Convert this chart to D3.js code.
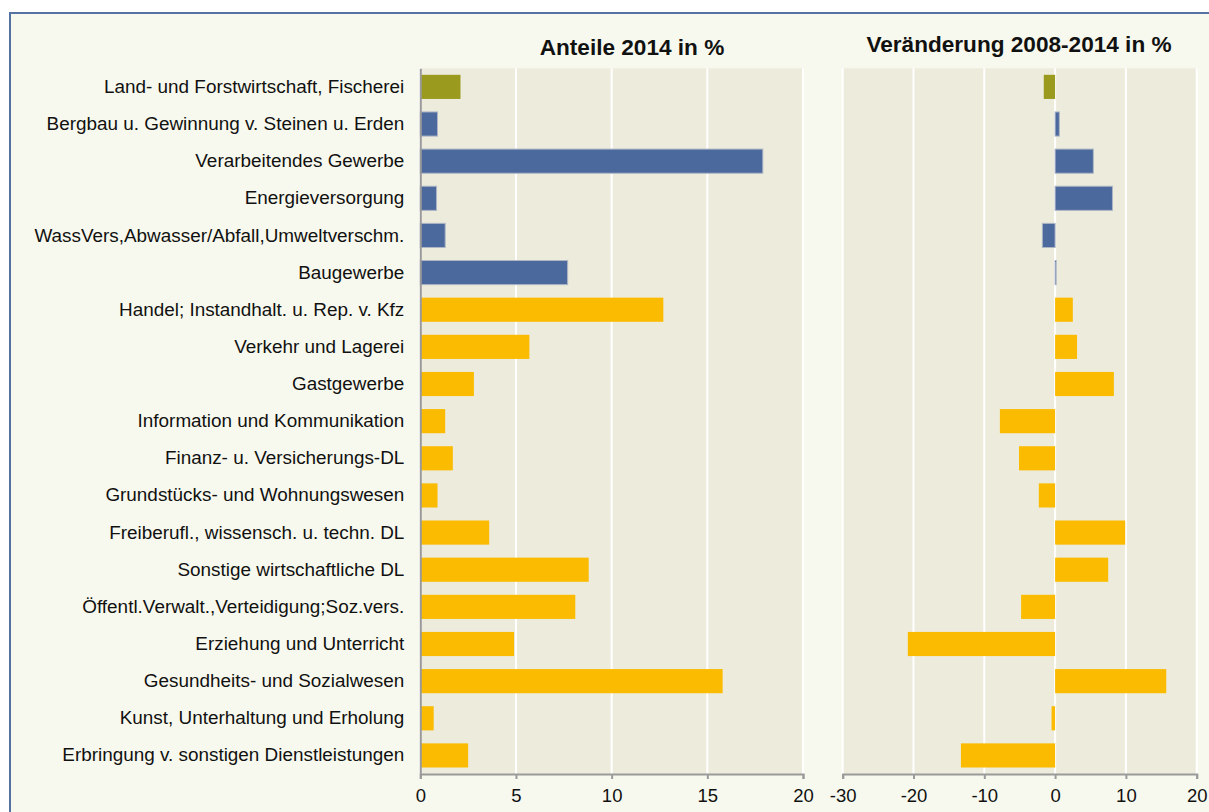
<!DOCTYPE html>
<html>
<head>
<meta charset="utf-8">
<script src="https://cdn.jsdelivr.net/npm/d3@7"></script>
<style>
  html, body { margin: 0; padding: 0; background: #ffffff; }
  svg { display: block; font-family: "Liberation Sans", Arial, sans-serif; }
</style>
</head>
<body>
<svg id="chart" width="1209" height="812"></svg>
<script>
const categories = [
  "Land- und Forstwirtschaft, Fischerei",
  "Bergbau u. Gewinnung v. Steinen u. Erden",
  "Verarbeitendes Gewerbe",
  "Energieversorgung",
  "WassVers,Abwasser/Abfall,Umweltverschm.",
  "Baugewerbe",
  "Handel; Instandhalt. u. Rep. v. Kfz",
  "Verkehr und Lagerei",
  "Gastgewerbe",
  "Information und Kommunikation",
  "Finanz- u. Versicherungs-DL",
  "Grundstücks- und Wohnungswesen",
  "Freiberufl., wissensch. u. techn. DL",
  "Sonstige wirtschaftliche DL",
  "Öffentl.Verwalt.,Verteidigung;Soz.vers.",
  "Erziehung und Unterricht",
  "Gesundheits- und Sozialwesen",
  "Kunst, Unterhaltung und Erholung",
  "Erbringung v. sonstigen Dienstleistungen"
];
const sectors = [
  "Land- und Forstwirtschaft",
  "Produzierendes Gewerbe", "Produzierendes Gewerbe", "Produzierendes Gewerbe",
  "Produzierendes Gewerbe", "Produzierendes Gewerbe",
  "Dienstleistungen", "Dienstleistungen", "Dienstleistungen", "Dienstleistungen",
  "Dienstleistungen", "Dienstleistungen", "Dienstleistungen", "Dienstleistungen",
  "Dienstleistungen", "Dienstleistungen", "Dienstleistungen", "Dienstleistungen",
  "Dienstleistungen"
];
const shares2014 = [2.1, 0.9, 17.9, 0.85, 1.3, 7.7, 12.7, 5.7, 2.8, 1.3, 1.7, 0.9, 3.6, 8.8, 8.1, 4.9, 15.8, 0.7, 2.5];
const change2008to2014 = [-1.6, 0.6, 5.4, 8.1, -1.8, 0.15, 2.5, 3.1, 8.3, -7.8, -5.1, -2.3, 9.9, 7.5, -4.8, -20.8, 15.7, -0.5, -13.3];
const ticksLeft = [0, 5, 10, 15, 20];
const ticksRight = [-30, -20, -10, 0, 10, 20];
const titleLeft = "Anteile 2014 in %";
const titleRight = "Veränderung 2008-2014 in %";

const svg = d3.select("#chart");

// outer frame
svg.append("rect")
  .attr("x", 10).attr("y", 13).attr("width", 1215).attr("height", 820)
  .attr("fill", "#F8F9EE").attr("stroke", "#5672A3").attr("stroke-width", 2);

const color = d3.scaleOrdinal()
  .domain(["Land- und Forstwirtschaft", "Produzierendes Gewerbe", "Dienstleistungen"])
  .range(["#999A1E", "#4B699C", "#FABB00"]);
const strokeC = d3.scaleOrdinal()
  .domain(["Land- und Forstwirtschaft", "Produzierendes Gewerbe", "Dienstleistungen"])
  .range(["none", "#AEB6C6", "none"]);

const plotTop = 68.3, plotBottom = 774;
const y = d3.scaleBand().domain(categories).range([plotTop, plotBottom]).paddingInner(0.35).paddingOuter(0.175);
const xL = d3.scaleLinear().domain([0, 20]).range([420.3, 803]);
const xR = d3.scaleLinear().domain([-30, 20]).range([842.7, 1196.7]);

function panel(x, ticks, values, title, titleX, titleY, leftAxis) {
  const g = svg.append("g");
  const [r0, r1] = x.range();
  g.append("rect").attr("x", r0).attr("y", plotTop).attr("width", r1 - r0).attr("height", plotBottom - plotTop)
    .attr("fill", "#EDEBDC");
  g.selectAll("line.grid").data(ticks).join("line")
    .attr("class", "grid")
    .attr("x1", d => x(d)).attr("x2", d => x(d))
    .attr("y1", plotTop).attr("y2", plotBottom)
    .attr("stroke", "#ffffff").attr("stroke-width", 2);
  g.selectAll("rect.bar").data(values).join("rect")
    .attr("class", "bar")
    .attr("x", d => Math.min(x(0), x(d)))
    .attr("width", d => Math.max(1, Math.abs(x(d) - x(0))))
    .attr("y", (d, i) => y(categories[i]))
    .attr("height", y.bandwidth())
    .attr("fill", (d, i) => color(sectors[i]))
    .attr("stroke", (d, i) => strokeC(sectors[i]))
    .attr("stroke-width", 1);
  const ax = g.append("g").attr("transform", `translate(0,${plotBottom})`)
    .call(d3.axisBottom(x).tickValues(ticks).tickFormat(d3.format("d")).tickSize(5).tickPadding(10));
  ax.select(".domain").attr("stroke", "#9A9A9A").attr("stroke-width", 2);
  ax.selectAll(".tick line").attr("stroke", "#9A9A9A").attr("stroke-width", 2);
  ax.selectAll(".tick text").attr("fill", "#111").attr("font-size", 18.5)
    .attr("font-family", "'Liberation Sans', Arial, sans-serif");
  ax.selectAll(".tick text").text(d => d < 0 ? "-" + Math.abs(d) : d);
  if (leftAxis) {
    const ay = g.append("g").attr("transform", `translate(${x(0)},0)`)
      .call(d3.axisLeft(y).tickSize(0).tickPadding(16));
    ay.select(".domain").attr("stroke", "#9A9A9A").attr("stroke-width", 2);
    ay.selectAll(".tick text").attr("fill", "#111").attr("font-size", 18.9)
      .attr("font-family", "'Liberation Sans', Arial, sans-serif");
  }
  g.append("text").attr("x", titleX).attr("y", titleY).attr("text-anchor", "middle")
    .attr("font-weight", "bold").attr("font-size", 22.6).attr("fill", "#111").text(title);
}

panel(xL, ticksLeft, shares2014, titleLeft, 632, 55, true);
panel(xR, ticksRight, change2008to2014, titleRight, 1019, 52, false);
</script>
</body>
</html>
